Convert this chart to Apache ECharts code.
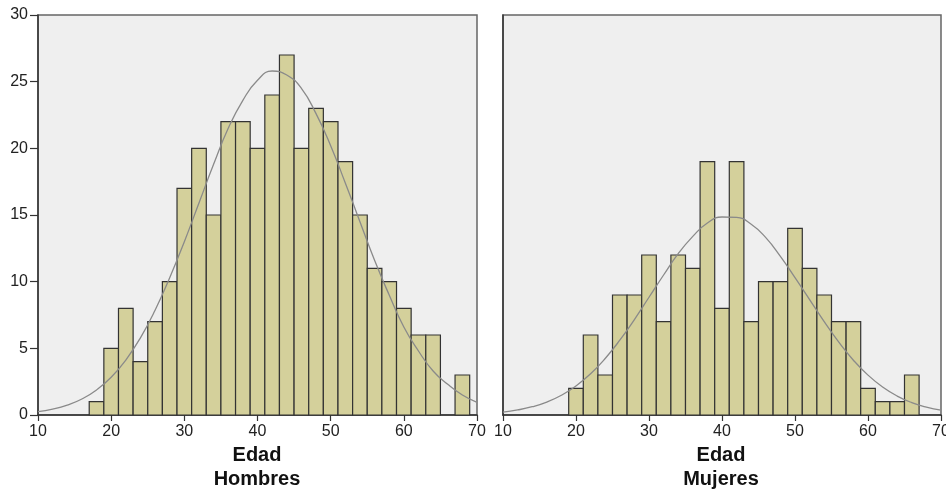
<!DOCTYPE html>
<html>
<head>
<meta charset="utf-8">
<script src="https://cdn.jsdelivr.net/npm/echarts@6/dist/echarts.min.js"></script>
<style>
  html, body { margin: 0; padding: 0; background: #fff; }
  #main { width: 946px; height: 490px; }
</style>
</head>
<body>
<div id="main"></div>
<script>
// ancho de cada intervalo (años)
var binWidth = 2;

// Hombres: inicio de cada intervalo y frecuencia
var binsHombres = [17, 19, 21, 23, 25, 27, 29, 31, 33, 35, 37, 39, 41, 43, 45, 47, 49, 51, 53, 55, 57, 59, 61, 63, 65, 67];
var countsHombres = [1, 5, 8, 4, 7, 10, 17, 20, 15, 22, 22, 20, 24, 27, 20, 23, 22, 19, 15, 11, 10, 8, 6, 6, 0, 3];

// Mujeres
var binsMujeres = [19, 21, 23, 25, 27, 29, 31, 33, 35, 37, 39, 41, 43, 45, 47, 49, 51, 53, 55, 57, 59, 61, 63, 65];
var countsMujeres = [2, 6, 3, 9, 9, 12, 7, 12, 11, 19, 8, 19, 7, 10, 10, 14, 11, 9, 7, 7, 2, 1, 1, 3];

// curva normal
var curveX = [10, 12, 14, 16, 18, 20, 22, 24, 26, 28, 30, 32, 34, 36, 38, 40, 42, 44, 46, 48, 50, 52, 54, 56, 58, 60, 62, 64, 66, 68, 70];
var curveHombres = [0.26, 0.44, 0.74, 1.2, 1.88, 2.83, 4.12, 5.79, 7.86, 10.3, 13.0, 15.9, 18.8, 21.5, 23.6, 25.1, 25.8, 25.5, 24.5, 22.6, 20.2, 17.4, 14.5, 11.6, 9.0, 6.6, 4.8, 3.3, 2.3, 1.5, 0.95];
var curveMujeres = [0.22, 0.38, 0.62, 0.97, 1.48, 2.18, 3.09, 4.24, 5.61, 7.16, 8.83, 10.5, 12.1, 13.4, 14.4, 14.85, 14.82, 14.3, 13.3, 11.9, 10.3, 8.66, 7.0, 5.46, 4.11, 2.99, 2.1, 1.42, 0.93, 0.59, 0.36];

// etiquetas de los ejes
var xTicks = [10, 20, 30, 40, 50, 60, 70];
var yTicks = [0, 5, 10, 15, 20, 25, 30];

var font = 'Liberation Sans';

function pairs(xs, ys) {
  return xs.map(function (x, i) { return [x, ys[i]]; });
}

function renderBar(params, api) {
  var x0 = api.value(0);
  var y = api.value(1);
  if (!y) return;
  var p0 = api.coord([x0, 0]);
  var p1 = api.coord([x0 + binWidth, y]);
  return {
    type: 'rect',
    shape: { x: p0[0], y: p1[1], width: p1[0] - p0[0], height: p0[1] - p1[1] },
    style: { fill: '#d4d09b', stroke: '#333', lineWidth: 1.2 }
  };
}

function xAxis(idx) {
  return {
    type: 'value', gridIndex: idx,
    min: xTicks[0], max: xTicks[xTicks.length - 1], interval: 10,
    axisLine: { show: true, lineStyle: { color: '#333', width: 1.5 } },
    axisTick: { show: true, length: 6, lineStyle: { color: '#333', width: 1.2 } },
    axisLabel: { color: '#222', fontFamily: font, fontSize: 16, margin: 9, hideOverlap: false },
    splitLine: { show: false }
  };
}

function yAxis(idx, labels) {
  return {
    type: 'value', gridIndex: idx,
    min: yTicks[0], max: yTicks[yTicks.length - 1], interval: 5,
    axisLine: { show: true, lineStyle: { color: '#333', width: 1.5 } },
    axisTick: { show: labels, length: 8, lineStyle: { color: '#333', width: 1.2 } },
    axisLabel: { show: labels, color: '#222', fontFamily: font, fontSize: 16, margin: 10 },
    splitLine: { show: false }
  };
}

var gridStyle = {
  show: true, backgroundColor: '#efefef', borderColor: '#666', borderWidth: 1.5,
  containLabel: false, outerBoundsMode: 'none'
};

var option = {
  animation: false,
  grid: [
    Object.assign({ left: 38, top: 15, width: 439, height: 400 }, gridStyle),
    Object.assign({ left: 503, top: 15, width: 438, height: 400 }, gridStyle)
  ],
  xAxis: [xAxis(0), xAxis(1)],
  yAxis: [yAxis(0, true), yAxis(1, false)],
  graphic: [
    { type: 'text', x: 257, y: 455, style: { text: 'Edad', font: 'bold 20px ' + font, fill: '#111', textAlign: 'center', textVerticalAlign: 'middle' } },
    { type: 'text', x: 257, y: 479, style: { text: 'Hombres', font: 'bold 20px ' + font, fill: '#111', textAlign: 'center', textVerticalAlign: 'middle' } },
    { type: 'text', x: 721, y: 455, style: { text: 'Edad', font: 'bold 20px ' + font, fill: '#111', textAlign: 'center', textVerticalAlign: 'middle' } },
    { type: 'text', x: 721, y: 479, style: { text: 'Mujeres', font: 'bold 20px ' + font, fill: '#111', textAlign: 'center', textVerticalAlign: 'middle' } }
  ],
  series: [
    { type: 'custom', xAxisIndex: 0, yAxisIndex: 0, renderItem: renderBar, data: pairs(binsHombres, countsHombres) },
    { type: 'custom', xAxisIndex: 1, yAxisIndex: 1, renderItem: renderBar, data: pairs(binsMujeres, countsMujeres) },
    {
      type: 'line', xAxisIndex: 0, yAxisIndex: 0, smooth: true, showSymbol: false, z: 5,
      lineStyle: { color: '#8a8a8a', width: 1.3 }, data: pairs(curveX, curveHombres)
    },
    {
      type: 'line', xAxisIndex: 1, yAxisIndex: 1, smooth: true, showSymbol: false, z: 5,
      lineStyle: { color: '#8a8a8a', width: 1.3 }, data: pairs(curveX, curveMujeres)
    }
  ]
};

var chart = echarts.init(document.getElementById('main'));
chart.setOption(option);
</script>
</body>
</html>
